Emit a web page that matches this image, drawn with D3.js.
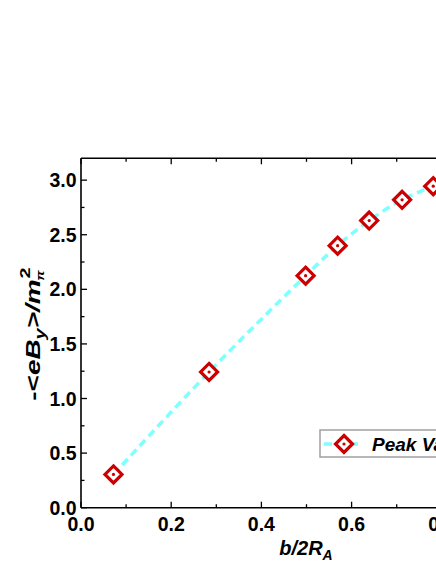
<!DOCTYPE html>
<html><head><meta charset="utf-8">
<script src="https://cdn.jsdelivr.net/npm/d3@7"></script>
<style>body{margin:0;background:#fff;overflow:hidden}svg{display:block}text{font-family:"Liberation Sans",Arial,sans-serif;font-weight:bold}</style>
</head><body>
<svg id="c" width="436" height="564"></svg>
<script>
const xValues = [0.072, 0.284, 0.498, 0.569, 0.639, 0.712, 0.781];
const yValues = [0.305, 1.243, 2.125, 2.40, 2.63, 2.82, 2.945];
const xTicks = [0.0, 0.2, 0.4, 0.6, 0.8];
const yTicks = [0.0, 0.5, 1.0, 1.5, 2.0, 2.5, 3.0];
const seriesName = "Peak Value";

const svg = d3.select("#c");
const L = 81, T = 158.3, B = 507.7;
const x = d3.scaleLinear().domain([0, 1.0]).range([L, L + 451]);
const y = d3.scaleLinear().domain([0, 3.2]).range([B, T]);
const red = "#CC0000", cyan = "#80FFFF";

// frame
svg.append("line").attr("x1", L).attr("x2", 440).attr("y1", B).attr("y2", B).attr("stroke", "#000").attr("stroke-width", 1.6);
svg.append("line").attr("x1", L).attr("x2", 440).attr("y1", T).attr("y2", T).attr("stroke", "#000").attr("stroke-width", 1.6);
svg.append("line").attr("x1", L).attr("x2", L).attr("y1", T).attr("y2", B).attr("stroke", "#000").attr("stroke-width", 1.6);

// ticks (inward)
const xMinor = d3.range(0.1, 1.0, 0.2);
const g = svg.append("g").attr("stroke", "#000").attr("stroke-width", 1.3);
xTicks.forEach(v => {
  g.append("line").attr("x1", x(v)).attr("x2", x(v)).attr("y1", B).attr("y2", B - 6);
  g.append("line").attr("x1", x(v)).attr("x2", x(v)).attr("y1", T).attr("y2", T + 6);
});
xMinor.forEach(v => {
  g.append("line").attr("x1", x(v)).attr("x2", x(v)).attr("y1", B).attr("y2", B - 3.5);
  g.append("line").attr("x1", x(v)).attr("x2", x(v)).attr("y1", T).attr("y2", T + 3.5);
});
yTicks.forEach(v => g.append("line").attr("x1", L).attr("x2", L + 6).attr("y1", y(v)).attr("y2", y(v)));
d3.range(0.25, 3.2, 0.5).forEach(v => g.append("line").attr("x1", L).attr("x2", L + 3.5).attr("y1", y(v)).attr("y2", y(v)));

// tick labels
svg.selectAll(".xt").data(xTicks).join("text").attr("x", d => x(d)).attr("y", 531)
  .attr("text-anchor", "middle").attr("font-size", 19.5).text(d => d.toFixed(1));
svg.selectAll(".yt").data(yTicks).join("text").attr("x", 76.5).attr("y", d => y(d) + 7)
  .attr("text-anchor", "end").attr("font-size", 19.5).text(d => d.toFixed(1));

// axis titles
const xt = svg.append("text").attr("x", 306).attr("y", 555).attr("text-anchor", "middle")
  .attr("font-size", 20).attr("font-style", "italic");
xt.append("tspan").text("b/2R");
xt.append("tspan").attr("font-size", 14).attr("dy", 5).text("A");

const yt = svg.append("text").attr("transform", "translate(40,334) rotate(-90) scale(1.33,1)")
  .attr("text-anchor", "middle").attr("font-size", 21);
yt.append("tspan").text("-<");
yt.append("tspan").attr("font-style", "italic").text("eB");
yt.append("tspan").attr("font-style", "italic").attr("font-size", 15).attr("dy", 5).text("y");
yt.append("tspan").attr("font-style", "italic").attr("dy", -5).text(">/m");
yt.append("tspan").attr("font-style", "italic").attr("font-size", 11).attr("dy", 4).attr("dx", -1).text("\u03C0");
yt.append("tspan").attr("font-size", 15).attr("dy", -14).attr("dx", -6).text("2");

// line
const line = d3.line().x((d, i) => x(xValues[i])).y(d => y(d)).curve(d3.curveCatmullRom.alpha(0.5));
svg.append("path").attr("d", line(yValues)).attr("fill", "none").attr("stroke", cyan)
  .attr("stroke-width", 3.5).attr("stroke-dasharray", "8,5");

function marker(sel, cx, cy) {
  const r = 8.5;
  sel.append("path").attr("d", `M${cx},${cy - r}L${cx + r},${cy}L${cx},${cy + r}L${cx - r},${cy}Z`)
    .attr("fill", "#fff").attr("stroke", red).attr("stroke-width", 3.2);
  sel.append("circle").attr("cx", cx).attr("cy", cy).attr("r", 1.6).attr("fill", red);
}
const mg = svg.append("g");
yValues.forEach((v, i) => marker(mg, x(xValues[i]), y(v)));

// legend
svg.append("rect").attr("x", 320).attr("y", 430).attr("width", 200).attr("height", 27)
  .attr("fill", "#fff").attr("stroke", "#a0a0a0").attr("stroke-width", 1.5);
svg.append("line").attr("x1", 324).attr("x2", 360).attr("y1", 444).attr("y2", 444)
  .attr("stroke", cyan).attr("stroke-width", 3.5).attr("stroke-dasharray", "8,5");
marker(svg, 344, 444);
svg.append("text").attr("x", 372).attr("y", 451).attr("font-size", 19).attr("font-style", "italic").text(seriesName);
</script>
</body></html>
